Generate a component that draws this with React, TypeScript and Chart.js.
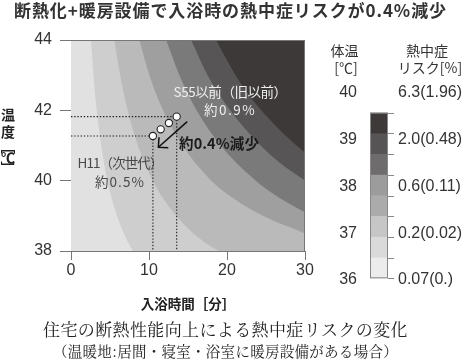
import React, { useEffect, useRef } from 'react';
import { Chart, registerables } from 'chart.js';

Chart.register(...registerables);

const JP = '"Noto Sans CJK JP", "Noto Sans", sans-serif';
const SERIF_JP = '"Noto Serif CJK JP", "Noto Sans CJK JP", serif';
const NUM = '"Liberation Sans", Arial, sans-serif';

// ---- texts ----
const titleText = '断熱化+暖房設備で入浴時の熱中症リスクが0.4%減少';
const xTitle = '入浴時間［分］';
const yTitleChars = ['温', '度'];
const yTitleUnit = ['［', '℃', '］'];
const caption1 = '住宅の断熱性能向上による熱中症リスクの変化';
const caption2 = '（温暖地:居間・寝室・浴室に暖房設備がある場合）';

// ---- axes ----
const timeMin = 0, timeMax = 30, timeStep = 10;
const tempMin = 38, tempMax = 44, tempStep = 2;

// ---- contour boundaries (bath time [min] at water temperature [°C]), light -> dark ----
const b1Time = [2.56, 2.88, 3.3, 3.87, 4.67, 5.2, 5.89, 6.77, 7.95, 9.7, 30];
const b1Temp = [44, 43, 42, 41, 40, 39.5, 39, 38.5, 38, 37.5, 36];
const b2Time = [5.55, 6.3, 7.26, 8.58, 10.5, 11.8, 13.5, 15.7, 18.9, 23.6, 30];
const b2Temp = [44, 43, 42, 41, 40, 39.5, 39, 38.5, 38, 37.5, 37.1];
const b3Time = [8.76, 10.05, 11.8, 14.3, 18.0, 20.8, 24.6, 30];
const b3Temp = [44, 43, 42, 41, 40, 39.5, 39, 38.5];
const b4Time = [12.2, 13.9, 16.1, 19.2, 23.7, 26.8, 30];
const b4Temp = [44, 43, 42, 41, 40, 39.5, 39.1];
const b5Time = [15.4, 17.5, 20.4, 24.3, 26.8, 30];
const b5Temp = [44, 43, 42, 41, 40.5, 40];
const b6Time = [18.6, 19.8, 21.1, 22.6, 24.4, 26.5, 28.9, 30];
const b6Temp = [44, 43.5, 43, 42.5, 42, 41.5, 41, 40.8];

const plotBase = '#e1e1e1';
const bandColors = ['#cecece', '#bababa', '#9f9f9f', '#7b7a7a', '#575555', '#3d3939'];

// ---- housing cases (H11 ... S55) ----
const caseTime = [10.5, 11.5, 12.55, 13.55];
const caseTemp = [41.27, 41.46, 41.64, 41.82];

// ---- arrow (from S55 towards H11) ----
const arrowTime = [14.9, 11.2];
const arrowTemp = [41.68, 40.95];

// ---- annotations ----
const noteTexts = ['S55以前（旧以前）', '約0.9%', 'H11（次世代）', '約0.5%', '約0.4%減少'];
const noteTime = [20.4, 20.4, 6.28, 6.28, 13.85];
const noteTemp = [42.53, 42.0, 40.52, 39.97, 41.06];

// ---- color bar legend ----
const barHeadLeft = ['体温', '[℃]'];
const barHeadRight = ['熱中症', 'リスク[%]'];
const barTemps = ['40', '39', '38', '37', '36'];
const barRisks = ['6.3(1.96)', '2.0(0.48)', '0.6(0.11)', '0.2(0.02)', '0.07(0.)'];
const barColors = ['#3d3939', '#565454', '#6e6c6c', '#9c9c9c', '#ababab', '#c6c6c6', '#dadada', '#ececec'];

const pts = (xs: number[], ys: number[]) => xs.map((x, i) => ({ x, y: ys[i] }));

// draw text stretched/condensed to a given width by letter spacing
function fitText(ctx: any, text: string, x: number, y: number, width: number, align: 'left' | 'center') {
  ctx.letterSpacing = '0px';
  const w = ctx.measureText(text).width;
  const n = Array.from(text).length;
  let ls = n > 1 ? (width - w) / n : 0;
  ls = Math.max(-3, Math.min(8, ls));
  ctx.letterSpacing = `${ls}px`;
  ctx.textAlign = 'left';
  const sx = align === 'center' ? x - width / 2 : x;
  ctx.fillText(text, sx, y);
  ctx.letterSpacing = '0px';
}

export default function App() {
  const ref = useRef<HTMLCanvasElement>(null);

  useEffect(() => {
    const canvas = ref.current;
    if (!canvas) return;

    const bounds = [
      [b1Time, b1Temp], [b2Time, b2Temp], [b3Time, b3Temp],
      [b4Time, b4Temp], [b5Time, b5Temp], [b6Time, b6Temp],
    ];

    const datasets: any[] = bounds.map(([xs, ys], i) => ({
      data: pts(xs, ys),
      fill: 'end',
      backgroundColor: bandColors[i],
      borderColor: 'rgba(0,0,0,0)',
      borderWidth: 0,
      pointRadius: 0,
      cubicInterpolationMode: 'monotone',
      order: 20 - i,
      clip: 0,
    }));

    const first = 0, last = caseTime.length - 1;
    const guides = [
      [{ x: timeMin, y: caseTemp[last] }, { x: caseTime[last], y: caseTemp[last] }],
      [{ x: timeMin, y: caseTemp[first] }, { x: caseTime[first], y: caseTemp[first] }],
      [{ x: caseTime[first], y: caseTemp[first] }, { x: caseTime[first], y: tempMin }],
      [{ x: caseTime[last], y: caseTemp[last] }, { x: caseTime[last], y: tempMin }],
    ];
    guides.forEach((g) => datasets.push({
      data: g, fill: false, borderColor: '#222', borderWidth: 1.1,
      borderDash: [1.4, 1.8], pointRadius: 0, order: 5,
    }));

    const arrowIndex = datasets.length;
    datasets.push({
      data: pts(arrowTime, arrowTemp), fill: false, borderColor: '#111',
      borderWidth: 1.5, pointRadius: 0, order: 2,
    });

    datasets.push({
      data: pts(caseTime, caseTemp), showLine: false, fill: false,
      pointRadius: 3.6, pointBackgroundColor: '#ffffff', pointBorderColor: '#222',
      pointBorderWidth: 1.1, order: 0,
    });

    const decor = {
      id: 'decor',
      beforeDatasetsDraw(chart: any) {
        const { ctx, chartArea: a } = chart;
        ctx.save();
        ctx.fillStyle = plotBase;
        ctx.fillRect(a.left, a.top, a.right - a.left, a.bottom - a.top);
        ctx.restore();
      },
      afterDatasetsDraw(chart: any) {
        const { ctx, chartArea: a, scales } = chart;
        const sx = scales.x, sy = scales.y;
        ctx.save();
        // frame top / right
        ctx.strokeStyle = '#777';
        ctx.lineWidth = 1;
        ctx.beginPath();
        ctx.moveTo(a.left, a.top + 0.5);
        ctx.lineTo(a.right - 0.5, a.top + 0.5);
        ctx.lineTo(a.right - 0.5, a.bottom);
        ctx.stroke();

        // arrow head
        const am = chart.getDatasetMeta(arrowIndex);
        const p0 = am.data[0], p1 = am.data[1];
        const ang = Math.atan2(p0.y - p1.y, p0.x - p1.x);
        ctx.strokeStyle = '#111';
        ctx.lineWidth = 1.5;
        ctx.beginPath();
        ctx.moveTo(p1.x + 10 * Math.cos(ang - 0.78), p1.y + 10 * Math.sin(ang - 0.78));
        ctx.lineTo(p1.x, p1.y);
        ctx.lineTo(p1.x + 10 * Math.cos(ang + 0.78), p1.y + 10 * Math.sin(ang + 0.78));
        ctx.stroke();

        // annotations
        ctx.textBaseline = 'middle';
        const widths = [113, 52, 85, 50, 80];
        noteTexts.forEach((t, i) => {
          const px = sx.getPixelForValue(noteTime[i]);
          const py = sy.getPixelForValue(noteTemp[i]);
          if (i < 2) { ctx.fillStyle = '#eeeeee'; ctx.font = `13.5px ${JP}`; }
          else if (i < 4) { ctx.fillStyle = '#4a4a4a'; ctx.font = `13.5px ${JP}`; }
          else { ctx.fillStyle = '#1a1a1a'; ctx.font = `bold 14.5px ${JP}`; }
          fitText(ctx, t, px, py, widths[i], i < 4 ? 'center' : 'left');
        });
        ctx.restore();
      },
      afterDraw(chart: any) {
        const { ctx } = chart;
        ctx.save();
        ctx.textBaseline = 'middle';

        // title
        ctx.fillStyle = '#333';
        ctx.font = `bold 17px ${JP}`;
        fitText(ctx, titleText, 14, 11, 433, 'left');

        // y axis title (vertical)
        ctx.font = `bold 14px ${JP}`;
        ctx.textAlign = 'center';
        ctx.fillStyle = '#222';
        yTitleChars.forEach((c, i) => ctx.fillText(c, 8, 115 + i * 16.5));
        yTitleUnit.forEach((c, i) => {
          const y = 146 + i * 11;
          if (c === '℃') { ctx.fillText(c, 8, y + 1); return; }
          ctx.save();
          ctx.translate(8, y + (i === 0 ? 1 : 0));
          ctx.rotate(Math.PI / 2);
          ctx.fillText(c, 0, 0);
          ctx.restore();
        });

        // color bar
        const cbL = 370, cbR = 388, cbT = 112.7, cbB = 278.3;
        const h = (cbB - cbT) / barColors.length;
        barColors.forEach((c, i) => {
          ctx.fillStyle = c;
          ctx.fillRect(cbL, cbT + i * h, cbR - cbL, h + 0.6);
        });
        ctx.strokeStyle = '#888';
        ctx.lineWidth = 1;
        ctx.strokeRect(cbL + 0.5, cbT + 0.5, cbR - cbL - 1, cbB - cbT - 1);
        ctx.beginPath();
        for (let i = 0; i <= barColors.length; i++) {
          const y = Math.round(cbT + i * h) + 0.5;
          ctx.moveTo(cbR, y);
          ctx.lineTo(cbR + 6, y);
        }
        ctx.stroke();

        ctx.fillStyle = '#333';
        ctx.font = `14px ${JP}`;
        ctx.textAlign = 'center';
        ctx.fillText(barHeadLeft[0], 344.5, 51);
        ctx.fillText(barHeadLeft[1], 346, 68);
        ctx.fillText(barHeadRight[0], 427, 51);
        ctx.fillText(barHeadRight[1], 430, 68);

        ctx.font = `16px ${NUM}`;
        const step = (280 - 93) / (barTemps.length - 1);
        barTemps.forEach((t, i) => {
          ctx.textAlign = 'right';
          ctx.fillText(t, 357, 93 + i * step);
          ctx.textAlign = 'left';
          ctx.fillText(barRisks[i], 398, 93 + i * step);
        });

        // captions
        ctx.fillStyle = '#222';
        ctx.font = `17px ${SERIF_JP}`;
        fitText(ctx, caption1, 225.5, 330, 365, 'center');
        ctx.font = `14.5px ${SERIF_JP}`;
        fitText(ctx, caption2, 225.5, 351, 345, 'center');
        ctx.restore();
      },
    };

    const chart = new Chart(canvas, {
      type: 'line',
      data: { datasets },
      options: {
        responsive: false,
        animation: false,
        devicePixelRatio: 1,
        events: [],
        layout: { padding: { left: 0, top: 40, right: 170, bottom: 47 } },
        plugins: { legend: { display: false }, tooltip: { enabled: false }, title: { display: false } },
        scales: {
          x: {
            type: 'linear', min: timeMin, max: timeMax,
            ticks: { stepSize: timeStep, font: { family: NUM, size: 16 }, color: '#333', padding: 1 },
            grid: { display: true, drawOnChartArea: false, drawTicks: true, tickLength: 9, color: '#777' },
            border: { display: true, color: '#777', width: 1 },
            title: { display: true, text: xTitle, font: { family: JP, size: 13.5, weight: 'bold' }, color: '#222', padding: { top: 0, bottom: 0 } },
            afterFit: (s: any) => { s.height = 61; },
          },
          y: {
            type: 'linear', min: tempMin, max: tempMax,
            ticks: { stepSize: tempStep, font: { family: NUM, size: 16 }, color: '#333', padding: 8 },
            grid: { display: true, drawOnChartArea: false, drawTicks: true, tickLength: 11, color: '#777' },
            border: { display: true, color: '#777', width: 1 },
            afterFit: (s: any) => { s.width = 71; },
          },
        },
      } as any,
      plugins: [decor],
    });

    return () => chart.destroy();
  }, []);

  return (
    <div style={{ position: 'absolute', left: 0, top: 0, width: 475, height: 359, background: '#fff' }}>
      <canvas ref={ref} width={475} height={359} style={{ display: 'block', width: 475, height: 359 }} />
    </div>
  );
}
